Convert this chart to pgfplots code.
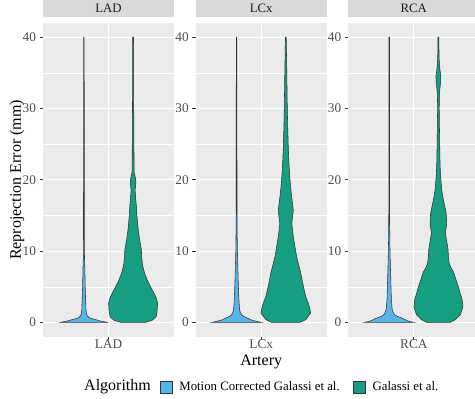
\documentclass[border=0pt]{standalone}
\usepackage{fontspec}
\setmainfont{Liberation Serif}
\usepackage{pgfplots}
\pgfplotsset{compat=1.18}
\usepackage{pgfplotstable}

\definecolor{panelbg}{HTML}{EBEBEB}
\definecolor{stripbg}{HTML}{D9D9D9}
\definecolor{mcblue}{HTML}{56B4E9}
\definecolor{gagreen}{HTML}{169E80}
\definecolor{gtwenty}{HTML}{333333}
\definecolor{gthirty}{HTML}{4D4D4D}
\definecolor{gten}{HTML}{1A1A1A}

% half-widths w (in panel x units) of each violin at value y
\pgfplotstableread{
y w
0 12
0.3 19
0.8 23
1.5 24
2.7 24.5
3.5 23
4.2 20.5
5.0 17.5
6.0 14
6.9 11.5
8.0 9.5
9.25 8.5
10.2 8.3
11 7.3
11.6 6.5
12.8 5.3
13.9 4.5
15 3.8
16.3 3.3
17.5 2.5
18.6 2
19.2 2.5
19.8 2.8
20.5 2
21 1.1
23 0.9
26 0.8
30 0.6
35 0.5
40 0.4
}\ladG
\pgfplotstableread{
y w
0 24.5
0.15 18
0.38 12
0.6 6
0.9 3.5
1.2 2.6
1.8 2.1
3.2 1.7
5.5 1.2
7.4 1
9 0.6
12 0.4
40 0.3
}\ladB
\pgfplotstableread{
y w
0 14
0.4 20
1.3 24.8
2.0 24
2.7 22.5
3.6 20
4.6 18.3
5.8 16.5
6.9 15
8.0 13
9.25 10.8
10.5 9.3
11.6 8
12.8 6.8
13.9 6
14.8 6.8
15.7 7.5
16.6 6.8
17.7 5.8
19 4.8
20 4.2
21.5 3.5
22.8 3
24.5 2.5
26 2.2
28 1.8
30 1.5
33 1.2
35 1
37.5 0.7
40 0.4
}\lcxG
\pgfplotstableread{
y w
0 25
0.15 20
0.38 14
0.6 11
0.85 7
1.1 5
1.4 3.8
1.8 3
3.2 2.3
5.5 1.7
7.85 1.2
10 0.8
13 0.5
16 0.4
40 0.3
}\lcxB
\pgfplotstableread{
y w
0 11.7
0.4 17
1.1 22
2.2 24.5
3.2 23.7
4.2 21.5
5.0 20
5.8 18
6.4 16.7
7.1 15
7.7 12.5
8.3 10.8
9.2 10
10.2 9.7
11 8.8
11.6 8
12.6 7
13.3 7.8
13.9 8.3
15.3 7.8
16.2 6.5
17.2 5
18.6 3.3
20 2.5
20.9 2
22.5 1.6
25.6 1.2
28 1
30 0.8
32 1
33.5 2
34.5 2.5
35.5 1.5
37 0.7
40 0.4
}\rcaG
\pgfplotstableread{
y w
0 25
0.15 20
0.38 16
0.6 13
0.85 8
1.1 5.3
1.4 4
1.8 3
3.2 2.2
5.5 1.7
7.85 1.2
10.2 0.8
13 0.5
16 0.4
40 0.3
}\rcaB

% build the closed outline: right side going up (s=1), left side coming down (s=-1)
\newcommand\mkviolin[1]{%
  \pgfplotstablesort[sort key=y, sort cmp=float >]{\tmprev}{#1}%
  \pgfplotstablecreatecol[expr={1}]{s}{#1}%
  \pgfplotstablecreatecol[expr={-1}]{s}{\tmprev}%
  \pgfplotstablevertcat{#1}{\tmprev}%
}
\mkviolin\ladG \mkviolin\ladB
\mkviolin\lcxG \mkviolin\lcxB
\mkviolin\rcaG \mkviolin\rcaB

\pgfplotsset{
  panel/.style={
    scale only axis, width=131pt, height=313.7pt,
    anchor=south west,
    xmin=-65.5, xmax=65.5, ymin=-2, ymax=42,
    axis background/.style={fill=panelbg},
    axis line style={draw=none},
    xtick={0}, ytick={0,10,20,30,40}, minor ytick={5,15,25,35},
    grid=both,
    major grid style={white, line width=1.1pt},
    minor grid style={white, line width=0.55pt},
    tick align=outside, tick pos=left,
    major tick length=3.5pt, minor tick length=0pt,
    tick style={color=gtwenty, line width=0.8pt},
    /pgf/number format/assume math mode=true,
    ticklabel style={font=\fontsize{13.3}{15}\selectfont, text=gthirty},
    xticklabel style={yshift=2pt, inner sep=1pt},
    title style={at={(0.5,1)}, anchor=south, fill=stripbg,
      minimum width=131pt, minimum height=17pt, inner sep=0pt, yshift=0pt,
      font=\fontsize{12.8}{14}\selectfont, text=gten},
  },
  violin/.style={draw=gtwenty, line width=0.55pt, fill=#1, forget plot, mark=none},
}

\begin{document}
\begin{tikzpicture}

\begin{axis}[panel, at={(43pt,62.3pt)}, title={LAD}, xticklabels={LAD}]
  \addplot[violin=mcblue] table[x expr=-24.6+\thisrow{s}*\thisrow{w}, y=y] {\ladB} -- cycle;
  \addplot[violin=gagreen] table[x expr=24.6+\thisrow{s}*\thisrow{w}, y=y] {\ladG} -- cycle;
\end{axis}

\begin{axis}[panel, at={(195.7pt,62.3pt)}, title={LCx}, xticklabels={LCx},
  legend style={at={(-0.2725,-0.1603)}, anchor=west, draw=none, fill=none,
    inner sep=0pt, legend columns=-1,
    font=\fontsize{12.8}{14}\selectfont,
    /tikz/every odd column/.append style={column sep=5pt},
    /tikz/every even column/.append style={column sep=11.7pt}},
  legend image code/.code={\draw[#1] (0pt,-5.85pt) rectangle (11.7pt,5.85pt);}]
  \addlegendimage{draw=gtwenty, line width=0.5pt, fill=mcblue}
  \addlegendentry{Motion Corrected Galassi et al.}
  \addlegendimage{draw=gtwenty, line width=0.5pt, fill=gagreen}
  \addlegendentry{Galassi et al.}
  \addplot[violin=mcblue] table[x expr=-24.6+\thisrow{s}*\thisrow{w}, y=y] {\lcxB} -- cycle;
  \addplot[violin=gagreen] table[x expr=24.6+\thisrow{s}*\thisrow{w}, y=y] {\lcxG} -- cycle;
\end{axis}

\begin{axis}[panel, at={(348.3pt,62.3pt)}, title={RCA}, xticklabels={RCA}]
  \addplot[violin=mcblue] table[x expr=-24.6+\thisrow{s}*\thisrow{w}, y=y] {\rcaB} -- cycle;
  \addplot[violin=gagreen] table[x expr=24.6+\thisrow{s}*\thisrow{w}, y=y] {\rcaG} -- cycle;
\end{axis}

\node[rotate=90, anchor=base, inner sep=0pt, font=\fontsize{16}{18}\selectfont] at (21pt,219pt) {Reprojection Error (mm)};
\node[anchor=base, inner sep=0pt, font=\fontsize{16}{18}\selectfont] at (261.2pt,33.5pt) {Artery};
\node[anchor=base west, inner sep=0pt, font=\fontsize{16}{18}\selectfont] at (84pt,8.3pt) {Algorithm};

\pgfresetboundingbox
\useasboundingbox (0,0) rectangle (475pt,399pt);
\end{tikzpicture}
\end{document}
